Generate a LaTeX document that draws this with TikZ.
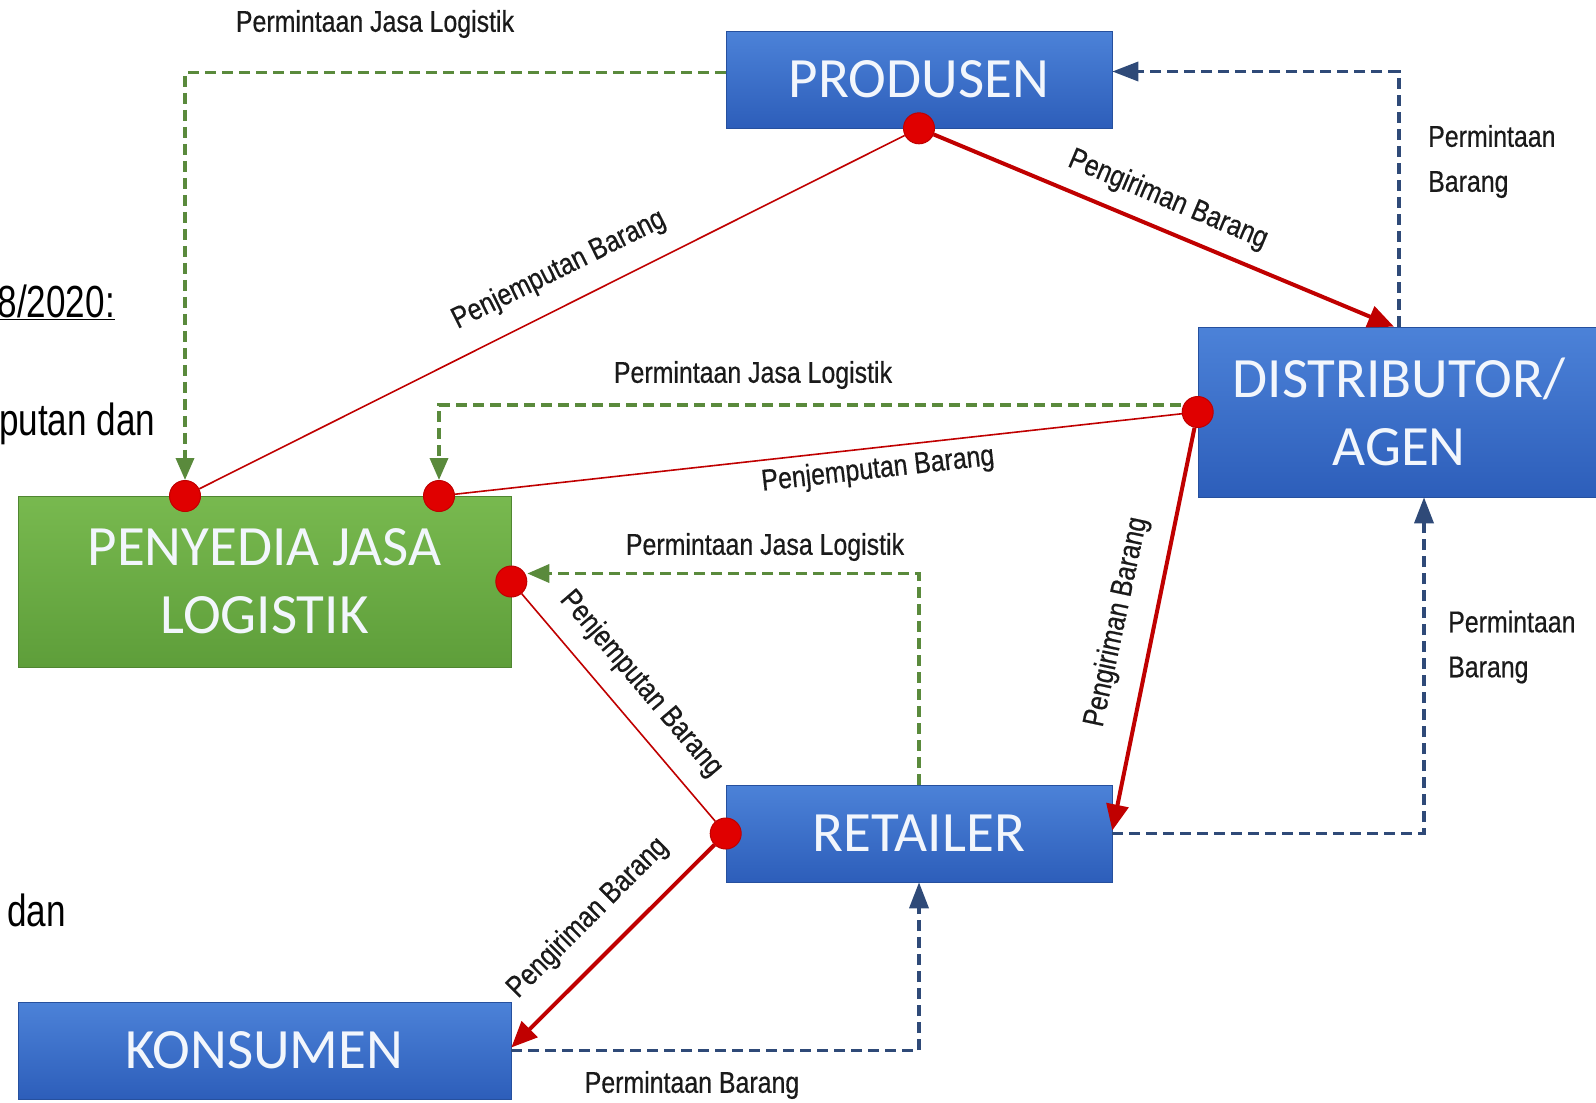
\documentclass[tikz,border=0pt]{standalone}
\usepackage{fontspec}
\usetikzlibrary{arrows.meta}
\newfontfamily\boxfont{Carlito}
\newfontfamily\lblfont[FakeStretch=0.83,FakeBold=0.5]{Liberation Sans}
\newfontfamily\sidefont[FakeStretch=0.78]{Liberation Sans}
\definecolor{boxtop}{HTML}{4C82D8}
\definecolor{boxbot}{HTML}{2D5EBA}
\definecolor{grtop}{HTML}{78B94F}
\definecolor{grbot}{HTML}{5E9E3A}
\definecolor{redl}{HTML}{C00000}
\definecolor{dotred}{HTML}{E00000}
\definecolor{gdashc}{HTML}{5A8A3C}
\definecolor{bdashc}{HTML}{2F4A78}
\definecolor{txtc}{HTML}{1A1A1A}
\definecolor{boxtxt}{HTML}{F2F6FC}
\pgfdeclarelayer{bg}
\pgfdeclarelayer{lines}
\pgfsetlayers{bg,lines,main}
\begin{document}
\begin{tikzpicture}[x=1pt,y=-1pt,
  bluebox/.style={rectangle, inner sep=0, top color=boxtop, bottom color=boxbot,
    draw=boxbot!85!black, line width=0.6, text=boxtxt,
    font=\boxfont\fontsize{57}{68}\selectfont, align=center},
  greenbox/.style={bluebox, top color=grtop, bottom color=grbot, draw=grbot!85!black},
  reddot/.style={circle, inner sep=0, minimum size=31, fill=dotred, draw=redl, line width=1},
  redarrow/.style={draw=redl, line width=4, -{Triangle[length=26,width=22]}},
  redthin/.style={draw=redl, line width=1.6},
  gdash/.style={draw=gdashc, line width=3.5, dash pattern=on 11 off 6, -{Triangle[length=22,width=18]}},
  bdash/.style={draw=bdashc, line width=3.5, dash pattern=on 11 off 6, -{Triangle[length=26,width=19]}},
  lbl/.style={inner sep=0, text=txtc, font=\lblfont\fontsize{30}{45}\selectfont, align=left},
  sidetxt/.style={inner sep=0, text=black, font=\sidefont\fontsize{45}{50}\selectfont}
]
\useasboundingbox (0,0) rectangle (1596,1103);
\begin{pgfonlayer}{bg}
\fill[white] (0,0) rectangle (1596,1103);
\node[bluebox, minimum width=386, minimum height=97] (P) at (919,79.5) {PRODUSEN};
\node[bluebox, minimum width=402, minimum height=170] (D) at (1399,412) {DISTRIBUTOR/\\AGEN};
\node[greenbox, minimum width=493, minimum height=171] (L) at (264.5,581.5) {PENYEDIA JASA\\LOGISTIK};
\node[bluebox, minimum width=386, minimum height=97] (R) at (919,833.5) {RETAILER};
\node[bluebox, minimum width=493, minimum height=97] (K) at (264.5,1050.5) {KONSUMEN};
\end{pgfonlayer}

\node[reddot] (dP) at (P.south) {};
\node[reddot] (dD) at (D.west) {};
\node[reddot] (d1) at (185,496) {};
\node[reddot] (d2) at (439,496) {};
\node[reddot] (d3) at (L.east) {};
\node[reddot] (dR) at (R.west) {};

\begin{pgfonlayer}{lines}
\draw[gdash] ([yshift=7]P.west) -| (d1);
\draw[bdash] (D.north) |- ([yshift=8]P.east);
\draw[redarrow] (dP) -- ([xshift=-5]D.north);
\draw[redthin] (dP) -- (d1);
\draw[gdash] ([yshift=7]D.west) -| (d2);
\draw[redthin] (dD) -- (d2);
\draw[redarrow] (dD) -- ([yshift=3]R.east);
\draw[bdash] (R.east) -| ([xshift=25]D.south);
\draw[gdash] (R.north) |- ([yshift=8]d3.east);
\draw[redthin] (d3) -- (dR);
\draw[redarrow] (dR) -- ([yshift=3]K.east);
\draw[bdash] (K.east) -| (R.south);
\end{pgfonlayer}

\node[lbl] (t1) at (375,24) {Permintaan Jasa Logistik};
\node[lbl, anchor=west] (t2) at (1428,161.5) {Permintaan\\Barang};
\node[lbl, rotate=-22.8] (t3) at (1168,200) {Pengiriman Barang};
\node[lbl, rotate=26.4] (t4) at (559,270) {Penjemputan Barang};
\node[lbl] (t5) at (753,375) {Permintaan Jasa Logistik};
\node[lbl, rotate=6.4] (t6) at (878,470) {Penjemputan Barang};
\node[lbl] (t7) at (765,547) {Permintaan Jasa Logistik};
\node[lbl, rotate=-49.5] (t8) at (641,684) {Penjemputan Barang};
\node[lbl, rotate=78] (t9) at (1117,622) {Pengiriman Barang};
\node[lbl, anchor=west] (t10) at (1448,647) {Permintaan\\Barang};
\node[lbl, rotate=45] (t11) at (588,918) {Pengiriman Barang};
\node[lbl] (t12) at (692,1085) {Permintaan Barang};

\node[sidetxt, anchor=base east] (s1) at (115,317) {\underline{8/2020:}};
\node[sidetxt, anchor=base west] (s2) at (-1,435) {putan dan};
\node[sidetxt, anchor=base west] (s3) at (7,926) {dan};
\end{tikzpicture}
\end{document}
